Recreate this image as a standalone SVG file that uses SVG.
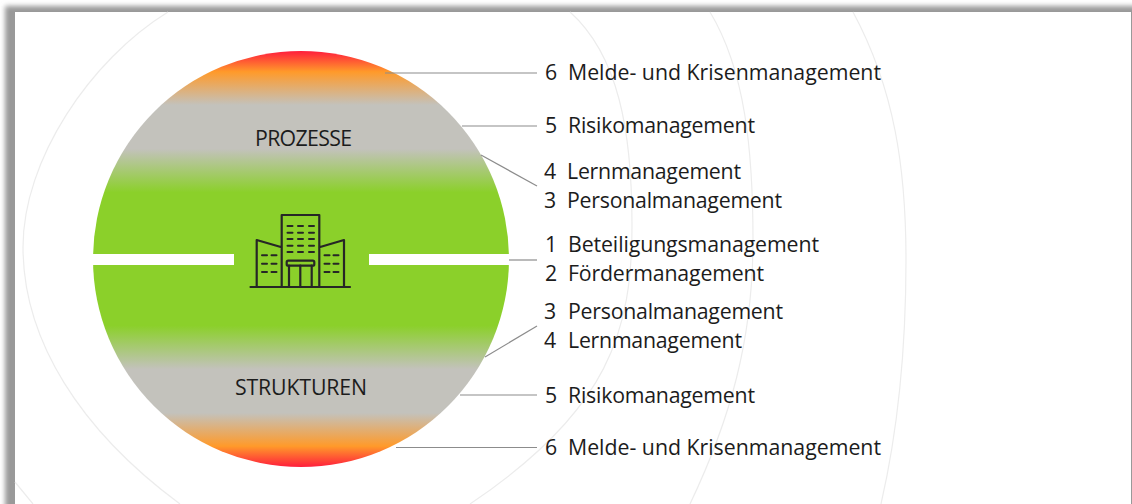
<svg xmlns="http://www.w3.org/2000/svg" width="1132" height="504" viewBox="0 0 1132 504">
<style>
.ring{fill:none;stroke:#ececec;stroke-width:1.2}
.lead{stroke:#8c8c8c;stroke-width:1.2;fill:none}
.ic{fill:none;stroke:#262626;stroke-width:2.2;stroke-linejoin:round;stroke-linecap:round}
.win{fill:none;stroke:#262626;stroke-width:2;stroke-linecap:round}
text{font-family:"Open Sans","Noto Sans","DejaVu Sans",sans-serif;font-size:21.3px;fill:#1c1c1c}
</style>
<defs>
<linearGradient id="disc" gradientUnits="userSpaceOnUse" x1="0" y1="51" x2="0" y2="467">
<stop offset="0" stop-color="#ff1e3c"/>
<stop offset="0.05" stop-color="#ff9a2a"/>
<stop offset="0.13" stop-color="#c3c2bc"/>
<stop offset="0.235" stop-color="#c3c2bc"/>
<stop offset="0.34" stop-color="#8bd02a"/>
<stop offset="0.66" stop-color="#8bd02a"/>
<stop offset="0.765" stop-color="#c3c2bc"/>
<stop offset="0.87" stop-color="#c3c2bc"/>
<stop offset="0.95" stop-color="#ff9a2a"/>
<stop offset="1" stop-color="#ff1e3c"/>
</linearGradient>
<filter id="blur" x="-5%" y="-5%" width="110%" height="110%"><feGaussianBlur stdDeviation="2.5"/></filter>
</defs>
<rect width="1132" height="504" fill="#fff"/>
<rect x="5" y="6" width="1160" height="540" fill="#999" filter="url(#blur)"/>
<rect x="15" y="12" width="1116" height="492" fill="#fff"/>
<g id="rings">
<path class="ring" d="M168,12 C90,60 23,160 23,247 C23,340 80,430 180,504"/>
<path class="ring" d="M15,482 Q24,493 33,504"/>
<path class="ring" d="M570,12 C618,55 632,130 632,225 C632,330 610,410 470,504"/>
<path class="ring" d="M710,12 C745,70 753,150 753,240 C753,340 730,420 690,504"/>
<path class="ring" d="M853,12 C895,90 906,170 906,260 C906,350 898,430 881,504"/>
</g>
<g id="disc-node">
<circle cx="301" cy="259" r="208" fill="url(#disc)"/>
<rect x="92" y="254" width="142" height="11" fill="#fff"/>
<rect x="369" y="254" width="141" height="11" fill="#fff"/>
</g>
<g id="connectors">
<line class="lead" x1="385" y1="73" x2="537" y2="73"/>
<line class="lead" x1="462" y1="126" x2="537" y2="126"/>
<line class="lead" x1="481" y1="155" x2="537" y2="186"/>
<line class="lead" x1="509" y1="260" x2="537" y2="260"/>
<line class="lead" x1="485" y1="357" x2="537" y2="326"/>
<line class="lead" x1="460" y1="395" x2="537" y2="395"/>
<line class="lead" x1="396" y1="447.5" x2="537" y2="447.5"/>
</g>
<g id="building">
<path class="ic" d="M250.500,287H350 M256.700,287V240L281.700,247.300 M344,287V240L319.300,247.300 M281.700,287V215H319.300V287"/>
<rect class="ic" x="286.700" y="260.700" width="27.600" height="5" rx="1.500"/>
<path class="ic" d="M289,265.700V287 M300.300,265.700V287 M311.700,265.700V287"/>
<path class="win" d="M287.500,226h5M298,226h5M309,226h5M287.500,232.700h5M298,232.700h5M309,232.700h5M287.500,239h5M298,239h5M309,239h5M287.500,245.700h5M298,245.700h5M309,245.700h5M287.500,252h5M298,252h5M309,252h5"/>
<path class="win" d="M262,255.300h5M271.500,255.300h5M262,263.700h5M271.500,263.700h5M262,272h5M271.500,272h5M324.500,255.300h5M333.500,255.300h5M324.500,263.700h5M333.500,263.700h5M324.500,272h5M333.500,272h5"/>
</g>
<g id="label-prozesse"><text x="255" y="146" textLength="97">PROZESSE</text></g>
<g id="label-strukturen"><text x="235" y="395" textLength="132">STRUKTUREN</text></g>
<g id="item-6-top"><text x="545" y="80">6</text><text x="568" y="80" textLength="313">Melde- und Krisenmanagement</text></g>
<g id="item-5-top"><text x="545" y="133">5</text><text x="568" y="133" textLength="187">Risikomanagement</text></g>
<g id="item-4-top"><text x="544" y="179">4</text><text x="567" y="179" textLength="174">Lernmanagement</text></g>
<g id="item-3-top"><text x="544" y="208">3</text><text x="567" y="208" textLength="215">Personalmanagement</text></g>
<g id="item-1"><text x="545" y="252">1</text><text x="568" y="252" textLength="251">Beteiligungsmanagement</text></g>
<g id="item-2"><text x="545" y="281">2</text><text x="568" y="281" textLength="196">Fördermanagement</text></g>
<g id="item-3-bottom"><text x="544" y="319">3</text><text x="568" y="319" textLength="215">Personalmanagement</text></g>
<g id="item-4-bottom"><text x="544" y="348">4</text><text x="568" y="348" textLength="174">Lernmanagement</text></g>
<g id="item-5-bottom"><text x="545" y="403">5</text><text x="568" y="403" textLength="187">Risikomanagement</text></g>
<g id="item-6-bottom"><text x="545" y="455">6</text><text x="568" y="455" textLength="313">Melde- und Krisenmanagement</text></g>
</svg>
